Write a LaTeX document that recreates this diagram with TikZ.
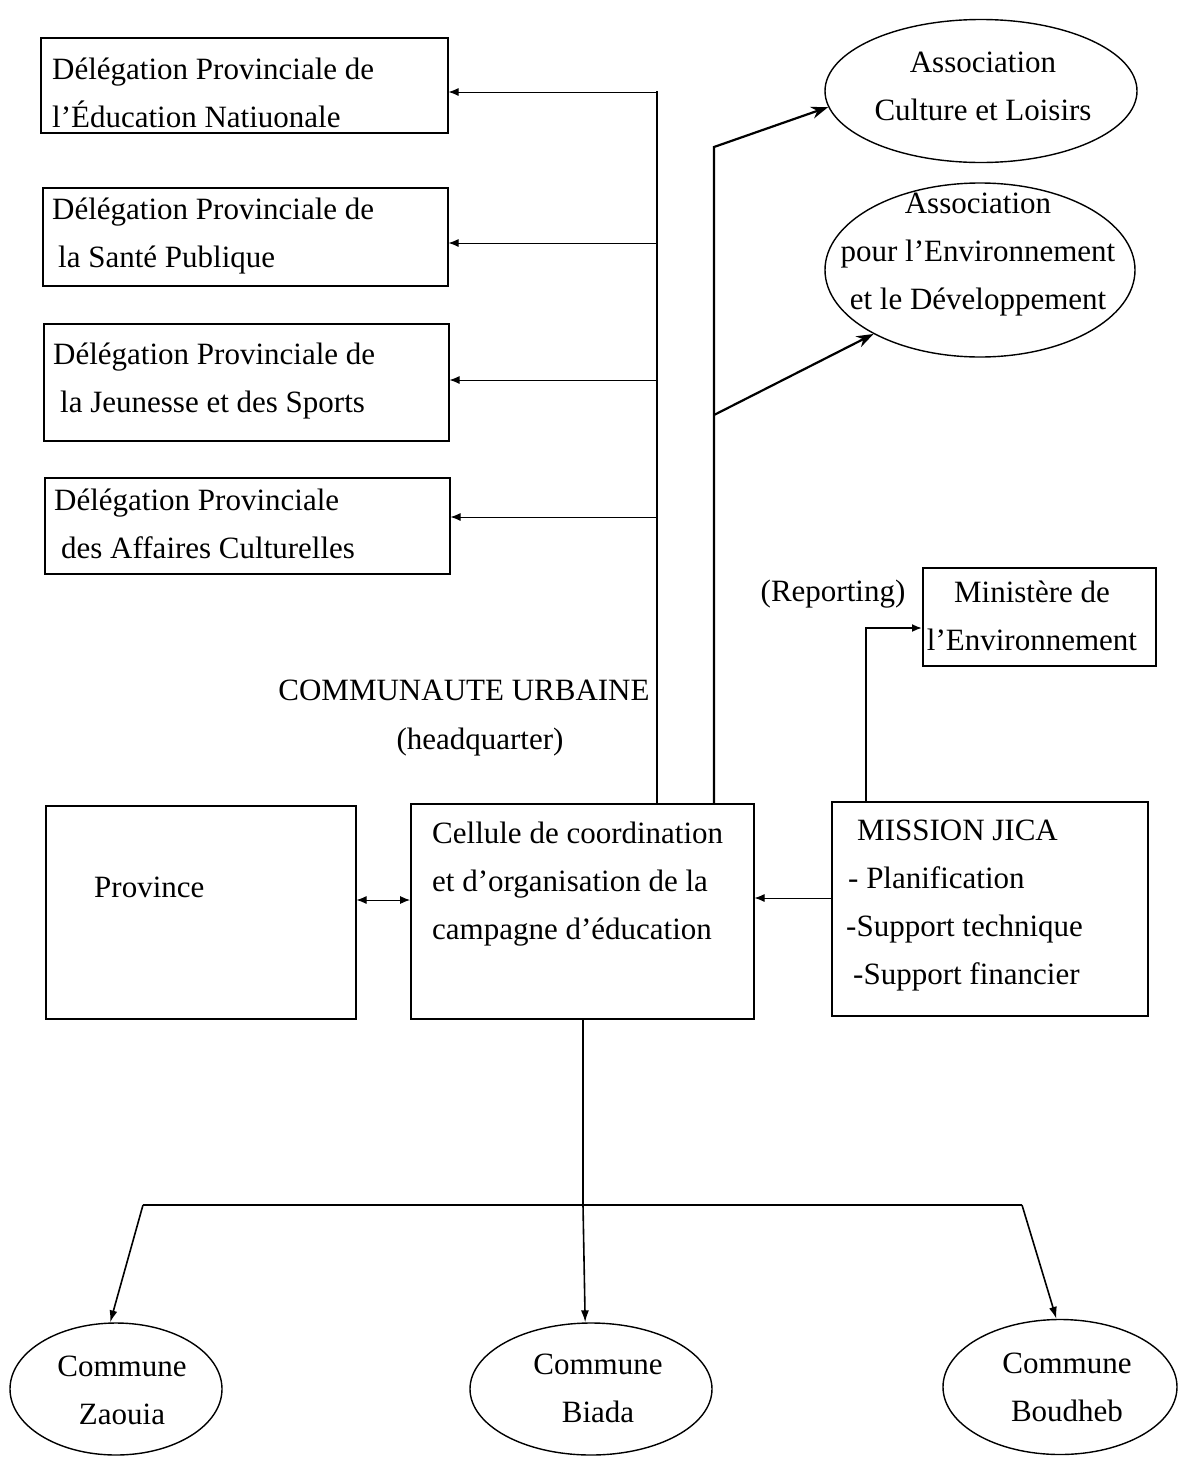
\documentclass[tikz,border=0pt]{standalone}
\usepackage{fontspec}
\setmainfont{Liberation Serif}
\usetikzlibrary{arrows.meta,shapes.geometric}

\begin{document}
\begin{tikzpicture}[x=1pt,y=-1pt,
        font=\fontsize{31}{48}\selectfont,
        box/.style={draw, line width=1.6pt, anchor=north west, inner sep=0pt},
        oval/.style={draw, ellipse, line width=1.4pt, inner sep=0pt},
        txt/.style={inner sep=0pt, align=left, anchor=west},
        ctxt/.style={inner sep=0pt, align=center},
        big/.style={-{Stealth[length=17pt,width=12pt]}, line width=2.2pt},
        mid/.style={-{Latex[length=12pt,width=8pt]}, line width=1.6pt},
        small/.style={-{Latex[length=10pt,width=8pt]}, line width=0.9pt}]
            \useasboundingbox (0,0) rectangle (1178,1457);
            \node[box, minimum width=407pt, minimum height=95pt] (dedu) at (40,37) {};
            \node[box, minimum width=405pt, minimum height=98pt] (dsan) at (42,187) {};
            \node[box, minimum width=405pt, minimum height=117pt] (djeu) at (43,323) {};
            \node[box, minimum width=405pt, minimum height=96pt] (dcul) at (44,477) {};
            \node[box, minimum width=233pt, minimum height=98pt] (mini) at (922,567) {};
            \node[box, minimum width=310pt, minimum height=213pt] (prov) at (45,805) {};
            \node[box, minimum width=343pt, minimum height=215pt] (cell) at (410,803) {};
            \node[box, minimum width=316pt, minimum height=214pt] (mis) at (831,801) {};
            \node[oval, minimum width=312pt, minimum height=143pt] (assoc) at (981,91) {};
            \node[oval, minimum width=310pt, minimum height=174pt] (aenv) at (980,270) {};
            \node[oval, minimum width=212pt, minimum height=132pt] (zao) at (116,1389) {};
            \node[oval, minimum width=242pt, minimum height=132pt] (bia) at (591,1389) {};
            \node[oval, minimum width=234pt, minimum height=135pt] (boud) at (1060,1387) {};

            \node[txt] (dedut) at (52,93) {Délégation Provinciale de\\l’Éducation Natiuonale};
            \node[txt] (dsant) at (52,236) {Délégation Provinciale de\\\hspace*{6pt}la Santé Publique};
            \node[txt] (djeut) at (53,381) {Délégation Provinciale de\\\hspace*{7pt}la Jeunesse et des Sports};
            \node[txt] (dcult) at (54,524) {Délégation Provinciale\\\hspace*{7pt}des Affaires Culturelles};
            \node[ctxt] (assoct) at (983,86) {Association\\Culture et Loisirs};
            \node[ctxt] (aenvt) at (978,255) {Association\\pour l’Environnement\\et le Développement};
            \node[ctxt] (minit) at (1032,616) {Ministère de\\l’Environnement};
            \node[ctxt] (report) at (833,594) {(Reporting)};
            \node[ctxt] (commu) at (464,690) {COMMUNAUTE URBAINE};
            \node[ctxt] (hq) at (480,742) {(headquarter)};
            \node[txt] (provt) at (94,887) {Province};
            \node[txt] (cellt) at (432,884) {Cellule de coordination\\et d’organisation de la\\campagne d’éducation};
            \node[txt] (mist) at (846,906) {\hspace*{11pt}MISSION JICA\\\hspace*{2pt}- Planification\\-Support technique\\\hspace*{7pt}-Support financier};
            \node[ctxt] (zaot) at (122,1390) {Commune\\Zaouia};
            \node[ctxt] (biat) at (598,1388) {Commune\\Biada};
            \node[ctxt] (boudt) at (1067,1387) {Commune\\Boudheb};

            \coordinate (trunk) at (657,91);
            \draw[line width=2pt] (cell.north -| trunk) -- (trunk);
            \foreach \n/\y in {dedu/92,dsan/243,djeu/380,dcul/517}
                \draw[small] (657,\y) -- (\n.east |- 0,\y);

            \coordinate (riser) at (714,147);
            \coordinate (split) at (714,415);
            \draw[big] (cell.north -| riser) -- (riser) -- (assoc.186);
            \draw[big] (split) -- (aenv.211);

            \coordinate (rep) at (866,628);
            \draw[small, line width=1.8pt] (mis.north -| rep) |- (mini.west |- rep);

            \draw[{Latex[length=10pt,width=8pt]}-{Latex[length=10pt,width=8pt]}, line width=0.9pt] (prov.east |- 0,900) -- (cell.west |- 0,900);
            \draw[small] (mis.west |- 0,898) -- (cell.east |- 0,898);

            \coordinate (fork) at (583,1205);
            \coordinate (forkL) at (143,1205);
            \coordinate (forkR) at (1022,1205);
            \draw[line width=2pt] (cell.south -| fork) -- (fork);
            \draw[line width=1.4pt] (forkL) -- (forkR);
            \draw[mid] (forkL) -- (zao.95);
            \draw[mid] (fork) -- (bia.95);
            \draw[mid] (forkR) -- (boud.93);
        \end{tikzpicture}
\end{document}
